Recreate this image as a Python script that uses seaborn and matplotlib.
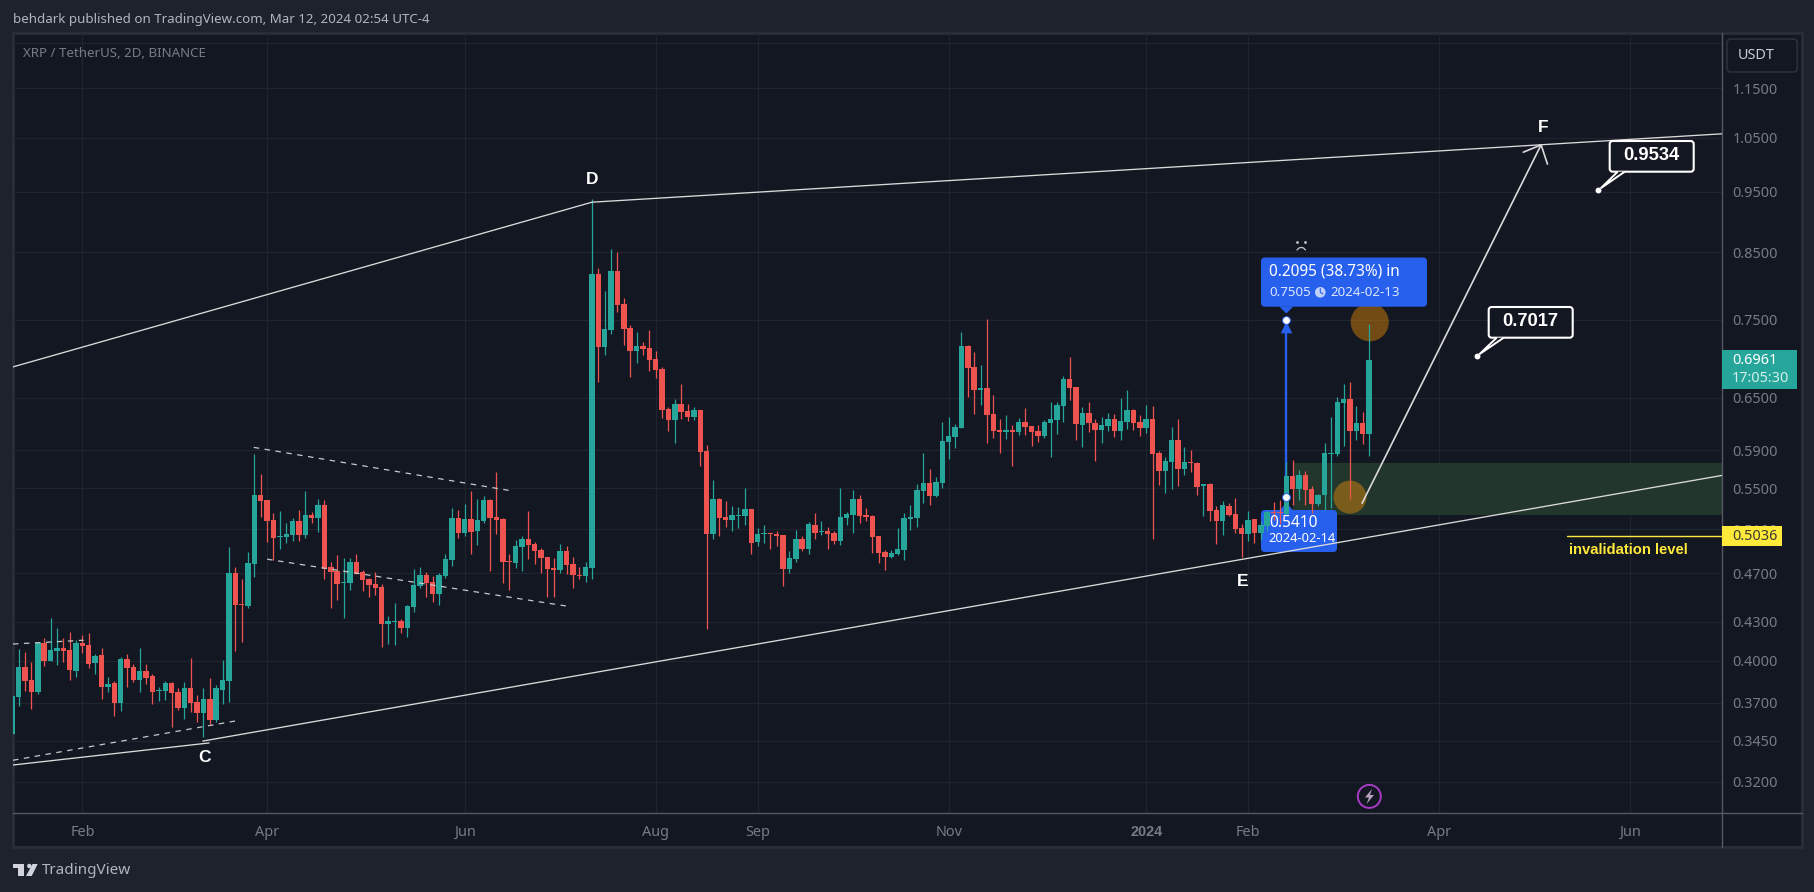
import numpy as np
import seaborn as sns
import matplotlib.pyplot as plt
from matplotlib.patches import FancyBboxPatch, Polygon, Circle, Rectangle

# XRP / USDT 2D candles
opens = [.3497,.3739,.3951,.3859,.3774,.4131,.3995,.4070,.4092,.4077,.3923,.4131,.4116,.3980,.4040,.3809,.3837,.3698,.4010,.3951,
         .3859,.3923,.3887,.3781,.3781,.3837,.3774,.3664,.3802,.3705,.3632,.3725,.3584,.3788,.3853,.4705,.4444,.4427,.4784,.5434,
         .5384,.5189,.5028,.5028,.5047,.5180,.5047,.5237,.5206,.5334,.4758,.4723,.4619,.4619,.4802,.4714,.4654,.4611,.4585,.4283,
         .4298,.4306,.4252,.4419,.4594,.4688,.4628,.4526,.4679,.4820,.5206,.5066,.5199,.5084,.5180,.5384,.5218,.5199,.4811,.4793,
         .4936,.5010,.4964,.4909,.4846,.4749,.4732,.4900,.4784,.4688,.4679,.4745,.8159,.7131,.7358,.8204,.7720,.7385,.7079,.7144,
         .7118,.6975,.6848,.6360,.6232,.6420,.6337,.6266,.6349,.5887,.5052,.5388,.5211,.5182,.5220,.5220,.5289,.4979,.5052,.5061,
         .5052,.5043,.4739,.4826,.5006,.4916,.5134,.5071,.5080,.5061,.4988,.5201,.5230,.5388,.5230,.5220,.5034,.4889,.4844,.4868,
         .4904,.5193,.5202,.5470,.5551,.5420,.5551,.5986,.6043,.6143,.7145,.6874,.6588,.6612,.6303,.6121,.6098,.6121,.6098,.6211,
         .6165,.6110,.6054,.6199,.6233,.6397,.6724,.6625,.6177,.6315,.6199,.6121,.6165,.6245,.6110,.6211,.6350,.6211,.6143,.6245,
         .5866,.5675,.5770,.6011,.5695,.5770,.5760,.5524,.5544,.5282,.5174,.5322,.5243,.5107,.5051,.5194,.5060,.5126,.5262,.5262,
         .5243,.5626,.5493,.5637,.5493,.5342,.5433,.5860,.5860,.6439,.6485,.6114,.6205,.6079]
highs = [.3746,.4090,.4062,.3988,.4136,.4170,.4331,.4246,.4170,.4220,.4152,.4192,.4208,.4047,.4092,.3880,.3852,.4025,.4047,.3978,
         .4092,.3978,.3906,.3809,.3852,.3845,.3802,.3845,.4017,.3753,.3802,.3873,.3823,.4002,.4934,.4758,.4654,.4891,.5860,.5649,
         .5384,.5253,.5276,.5160,.5206,.5285,.5472,.5266,.5394,.5384,.4802,.4864,.4838,.4838,.4873,.4732,.4662,.4714,.4611,.4347,
         .4451,.4322,.4435,.4740,.4758,.4714,.4679,.4705,.4873,.5305,.5285,.5344,.5472,.5394,.5424,.5394,.5669,.5206,.4873,.5000,
         .5037,.5276,.4982,.4927,.4846,.4838,.4964,.4945,.4846,.4758,.4802,.9382,.8250,.7907,.8545,.8505,.7806,.7427,.7331,.7197,
         .7358,.7079,.6873,.6384,.6479,.6660,.6420,.6384,.6349,.5951,.5579,.5398,.5368,.5318,.5308,.5498,.5289,.5106,.5134,.5071,
         .5080,.5043,.4898,.5089,.5034,.5163,.5249,.5173,.5115,.5080,.5498,.5259,.5478,.5427,.5298,.5230,.5034,.4907,.4907,.5109,
         .5251,.5330,.5541,.5866,.5695,.5613,.6211,.6268,.6188,.7333,.7159,.7067,.6900,.7510,.6528,.6245,.6291,.6177,.6257,.6373,
         .6165,.6177,.6233,.6444,.6444,.6761,.7002,.6625,.6386,.6444,.6245,.6268,.6315,.6303,.6492,.6588,.6362,.6291,.6409,.6397,
         .5887,.5823,.6154,.6245,.5932,.5902,.5770,.5544,.5550,.5322,.5372,.5352,.5402,.5146,.5275,.5194,.5174,.5282,.5362,.5382,
         .5774,.5795,.5689,.5671,.5524,.5443,.5980,.6274,.6510,.6667,.6692,.6402,.6331,.7448]
lows = [.3497,.3678,.3784,.3658,.3763,.3961,.3995,.3968,.3988,.3859,.3880,.4055,.3944,.3902,.3725,.3774,.3611,.3645,.3809,.3845,
        .3774,.3830,.3691,.3711,.3718,.3539,.3651,.3591,.3638,.3571,.3473,.3558,.3571,.3691,.3707,.4076,.4144,.4411,.4671,.5218,
        .4982,.4820,.4918,.4973,.4991,.4991,.5019,.5160,.5075,.4654,.4411,.4477,.4330,.4560,.4697,.4552,.4501,.4518,.4105,.4128,
        .4121,.4213,.4182,.4379,.4577,.4501,.4460,.4435,.4662,.4766,.5019,.5037,.4873,.4955,.5160,.4723,.5056,.4619,.4560,.4749,
        .4723,.4828,.4784,.4705,.4501,.4501,.4705,.4697,.4577,.4654,.4628,.4653,.6685,.7027,.7305,.7607,.7158,.6747,.6923,.7027,
        .6822,.6735,.6255,.6106,.5973,.6243,.6220,.6232,.5725,.4238,.5006,.5034,.5115,.5080,.5106,.5134,.4871,.4943,.4970,.4916,
        .4943,.4594,.4704,.4800,.4898,.4871,.5006,.5043,.4916,.4961,.4952,.5134,.5061,.5154,.5173,.4880,.4791,.4730,.4835,.4859,
        .4815,.5090,.5118,.5349,.5330,.5410,.5501,.5802,.5921,.6143,.6504,.6303,.6409,.5975,.6032,.5866,.6021,.5729,.6065,.6065,
        .5943,.5986,.6032,.5823,.6076,.6211,.6468,.6011,.5932,.6098,.5781,.5975,.6110,.6043,.6011,.6132,.6121,.6054,.6087,.5005,
        .5531,.5450,.5491,.5521,.5633,.5664,.5430,.5223,.5174,.4957,.5042,.5223,.5060,.4846,.4985,.4966,.4994,.5079,.5184,.5152,
        .5233,.5332,.5382,.5332,.5250,.5322,.5282,.5302,.5838,.5940,.5392,.6013,.5969,.5838]
closes = [.3746,.3951,.3852,.3774,.4131,.3995,.4077,.4092,.4070,.3930,.4131,.4108,.3973,.4032,.3809,.3830,.3698,.4010,.3944,.3859,
          .3923,.3873,.3774,.3788,.3837,.3767,.3664,.3802,.3698,.3632,.3725,.3584,.3802,.3859,.4700,.4435,.4435,.4793,.5434,.5374,
          .5180,.5019,.5037,.5056,.5180,.5047,.5237,.5206,.5334,.4740,.4714,.4611,.4628,.4802,.4697,.4645,.4602,.4577,.4283,.4306,
          .4306,.4252,.4427,.4602,.4688,.4619,.4526,.4688,.4828,.5206,.5066,.5199,.5075,.5189,.5384,.5206,.5189,.4802,.4802,.4945,
          .5010,.4955,.4900,.4838,.4740,.4732,.4900,.4775,.4688,.4679,.4758,.8159,.7131,.7371,.8204,.7706,.7371,.7079,.7144,.7105,
          .6962,.6835,.6349,.6232,.6420,.6325,.6266,.6349,.5876,.5052,.5388,.5201,.5182,.5230,.5230,.5289,.4970,.5052,.5061,.5052,
          .5034,.4739,.4835,.5006,.4916,.5144,.5061,.5080,.5052,.4988,.5211,.5240,.5388,.5220,.5211,.5025,.4880,.4844,.4880,.4913,
          .5202,.5212,.5480,.5551,.5420,.5561,.5997,.6054,.6154,.7145,.6861,.6588,.6612,.6291,.6110,.6098,.6121,.6098,.6211,.6154,
          .6098,.6054,.6211,.6245,.6409,.6724,.6612,.6188,.6315,.6199,.6121,.6177,.6245,.6110,.6222,.6350,.6199,.6143,.6245,.5855,
          .5675,.5781,.6011,.5695,.5770,.5760,.5511,.5544,.5275,.5174,.5332,.5233,.5098,.5051,.5184,.5060,.5136,.5262,.5252,.5252,
          .5626,.5493,.5637,.5483,.5342,.5433,.5871,.5871,.6450,.6485,.6114,.6205,.6079,.6961]

# price axis
tick_prices = [1.25, 1.15, 1.05, .95, .85, .75, .65, .59, .55, .51, .47, .43, .40, .37, .345, .32]
tick_texts = ['', '1.1500', '1.0500', '0.9500', '0.8500', '0.7500', '0.6500', '0.5900', '0.5500', '0.5100', '0.4700',
              '0.4300', '0.4000', '0.3700', '0.3450', '0.3200']
# time axis, bar number of the first bar of each labelled month
month_bars = [11, 40, 71, 101, 117, 147, 178, 194, 224, 254]
month_names = ['Feb', 'Apr', 'Jun', 'Aug', 'Sep', 'Nov', '2024', 'Feb', 'Apr', 'Jun']

# drawings on the chart (bar number, price)
upper_x = [0.1, 91, 268.4]
upper_y = [.6878, .9320, 1.0573]
lower1_x = [0.1, 30.9]
lower1_y = [.3300, .3437]
lower2_x = [29.9, 268.4]
lower2_y = [.3449, .5630]
dash_lines = [([0.1, 35], [.3329, .3579]), ([0.1, 11.2], [.4125, .4154]),
              ([37.9, 77.9], [.5929, .5477]), ([40, 86.9], [.4824, .4425])]
arrow_x = [211.9, 240]
arrow_y = [.5349, 1.036]
head_x = [237.2, 240, 241]
head_y = [1.022, 1.036, .9998]
zone_x = [201.1, 268.4]
zone_y = [.5237, .5760]
circle_x = [213.1, 210]
circle_y = [.7468, .5409]
measure_x = [200, 200]
measure_y = [.5410, .7505]
note_x = [230, 249]
note_y = [.7017, .9534]
inval_x = [244.0, 268.4]
inval_y = [.5036, .5036]

W, H = 1815, 892
PAGE = '#1E222D'
CHART = '#131722'
GRID = '#20242F'
EDGE = '#2A2E39'
AXISLINE = '#565963'
LABEL = '#787B86'
GREEN = '#26A69A'
RED = '#EF5350'
BLUE = '#2860EE'
YELLOW = '#FFE93B'
BOLD = ['Liberation Sans', 'DejaVu Sans']

sns.set_theme(style='dark')
plt.rcParams['font.family'] = ['Noto Sans', 'DejaVu Sans']

fig = plt.figure(figsize=(W / 100, H / 100), dpi=100, facecolor=PAGE)

def pixel_axes(z):
    a = fig.add_axes([0, 0, 1, 1], zorder=z)
    a.set_xlim(0, W)
    a.set_ylim(H, 0)
    a.axis('off')
    return a

under = pixel_axes(0)
top = pixel_axes(2)
under.add_patch(Rectangle((13, 33), 1789, 814, fc=CHART, ec=EDGE, lw=2))
under.plot([1722, 1722], [813, 847], color=AXISLINE, lw=1)
under.plot([1722, 1802], [813, 813], color=AXISLINE, lw=1)

ax = fig.add_axes([13 / W, 1 - 812.7 / H, (1722 - 13) / W, (812.7 - 33.3) / H], zorder=1, facecolor='none')
ax.set_yscale('log')
ax.set_xlim(0.105, 268.4)
ax.set_ylim(.3022, 1.2727)

ax.set_yticks(tick_prices)
ax.set_yticklabels(tick_texts)
ax.minorticks_off()
ax.yaxis.tick_right()
ax.set_xticks(month_bars)
ax.set_xticklabels(month_names)
ax.tick_params(axis='y', length=0, pad=7.5, labelsize=10.4, labelcolor=LABEL)
ax.tick_params(axis='x', length=0, pad=9, labelsize=10.4, labelcolor=LABEL)
year_label = ax.get_xticklabels()[6]
year_label.set_fontfamily(BOLD)
year_label.set_fontweight('bold')
ax.grid(True, color=GRID, lw=.9, zorder=0.5)
ax.set_axisbelow(True)
for side in ['top', 'left']:
    ax.spines[side].set_visible(False)
for side in ['right', 'bottom']:
    ax.spines[side].set_color(AXISLINE)
    ax.spines[side].set_linewidth(1)

# zone, circles and the measure tool sit under the candles
ax.fill_between(zone_x, zone_y[0], zone_y[1], color='#22362C', lw=0, zorder=1)
ax.scatter(circle_x, circle_y, s=[750, 565], color='#FF9800', alpha=.4, lw=0, zorder=1.5)

ax.plot(measure_x, measure_y, color=BLUE, lw=1.7, zorder=2)
ax.scatter(measure_x[1], .7400, marker='^', s=70, color=BLUE, lw=0, zorder=2)

def bubble(x0, y0, x1, y1, tip_x, tip_y, base_y):
    ax.add_patch(FancyBboxPatch((x0, y0), x1 - x0, y1 - y0, boxstyle='round,pad=0,rounding_size=4',
                                fc=BLUE, ec='none', transform=under.transData, clip_on=False, zorder=2.5))
    ax.add_patch(Polygon([(tip_x - 7, base_y), (tip_x, tip_y), (tip_x + 7, base_y)], fc=BLUE, ec='none',
                         transform=under.transData, clip_on=False, zorder=2.5))

bubble(1261, 257.5, 1427, 306.7, 1286.3, 313.5, 306.5)
bubble(1261, 510, 1337, 552, 1286.3, 503, 510.5)

# candles
bars = np.arange(len(opens))
opens = np.array(opens)
closes = np.array(closes)
colors = [GREEN if c >= o else RED for o, c in zip(opens, closes)]
ax.vlines(bars, lows, highs, colors=colors, lw=.9, zorder=3)
ax.bar(bars, np.abs(closes - opens), bottom=np.minimum(opens, closes), width=.85, color=colors, lw=0, zorder=3)

ax.scatter(measure_x, measure_y, s=32, color='white', edgecolor=BLUE, lw=.7, zorder=3.5)

# trend lines and projection
LINE = '#DADADA'
sns.lineplot(x=upper_x, y=upper_y, ax=ax, color=LINE, lw=.95, estimator=None, sort=False, zorder=4)
sns.lineplot(x=lower1_x, y=lower1_y, ax=ax, color=LINE, lw=.95, estimator=None, sort=False, zorder=4)
sns.lineplot(x=lower2_x, y=lower2_y, ax=ax, color=LINE, lw=.95, estimator=None, sort=False, zorder=4)
for dx, dy in dash_lines:
    ax.plot(dx, dy, color='#C8C8C8', lw=.9, ls=(0, (4.4, 4.4)), zorder=4)
sns.lineplot(x=arrow_x, y=arrow_y, ax=ax, color=LINE, lw=1.2, estimator=None, sort=False, zorder=4)
sns.lineplot(x=head_x, y=head_y, ax=ax, color=LINE, lw=1.2, estimator=None, sort=False, zorder=4)
sns.lineplot(x=inval_x, y=inval_y, ax=ax, color=YELLOW, lw=1, estimator=None, sort=False, zorder=4)
ax.scatter(note_x, note_y, s=18, color='white', lw=0, zorder=4)
ax.set_xlim(0.105, 268.4)
ax.set_ylim(.3022, 1.2727)

# callouts with the projected prices
def callout(x0, y0, tip_x, tip_y, text):
    x1, y1 = x0 + 84, y0 + 30.7
    top.add_patch(FancyBboxPatch((x0, y0), x1 - x0, y1 - y0, boxstyle='round,pad=0,rounding_size=3',
                                 fc=CHART, ec='white', lw=1.5))
    top.add_patch(Polygon([(x0 + 8, y1), (tip_x + 2, tip_y - 1), (x0 + 15, y1)], closed=False, fc=CHART, ec='white', lw=1.4))
    top.text((x0 + x1) / 2, y0 + 14, text, color='white', fontsize=13.2, fontweight='bold', family=BOLD, ha='center', va='center')

callout(1488.7, 307, 1477.3, 355.3, '0.7017')
callout(1609.7, 141, 1598.7, 189.3, '0.9534')

# wave letters
for tx, ty, letter in [(205, 758, 'C'), (592.6, 179, 'D'), (1243, 582, 'E'), (1543, 127, 'F')]:
    top.text(tx, ty, letter, color='white', fontsize=12.5, fontweight='bold', family=BOLD, ha='center', va='center')

# measure labels
top.text(1269.3, 272, '0.2095 (38.73%) in', color='white', fontsize=11.1, fontweight='medium', va='center')
top.text(1269.3, 292.3, '0.7505', color='#DCE6FF', fontsize=9.6, va='center')
top.add_patch(Circle((1320.3, 292.3), 5.3, fc='#BFD0FA', ec='none'))
top.plot([1320.3, 1320.3, 1323], [288.5, 292.3, 294], color=BLUE, lw=.8)
top.text(1330, 292.3, '2024-02-13', color='#DCE6FF', fontsize=9.6, va='center')
top.text(1269.3, 523, '0.5410', color='white', fontsize=11.2, va='center')
top.text(1268.3, 539, '2024-02-14', color='white', fontsize=9.3, va='center')

# sad face above the measure label
top.scatter([1297.5, 1305], [242, 242], s=4, color='#C8C8C8', lw=0)
top.plot([1297, 1299, 1301.3, 1303.5, 1305.5], [250, 248, 247.4, 248, 250], color='#C8C8C8', lw=.9)

# price axis tags
top.add_patch(FancyBboxPatch((1727, 39), 70.3, 33, boxstyle='round,pad=0,rounding_size=4', fc=CHART, ec=EDGE, lw=1.3))
top.text(1738, 55.7, 'USDT', color='#C8CBD2', fontsize=10.4, va='center')
top.add_patch(Rectangle((1722, 350), 74.7, 39.3, fc=GREEN, ec='none'))
top.text(1732, 361, '0.6961', color='white', fontsize=10.4, fontweight='medium', va='center')
top.text(1732, 379, '17:05:30', color='#D2EEEA', fontsize=10.4, va='center')
top.add_patch(Rectangle((1722, 525.7), 60.5, 20.6, fc=YELLOW, ec='none'))
top.text(1732.3, 536, '0.5036', color='#3A3A30', fontsize=10.4, va='center')
top.text(1569.3, 550, 'invalidation level', color=YELLOW, fontsize=10.7, fontweight='bold', family=BOLD, va='center')

# lightning icon
top.add_patch(Circle((1369.3, 796.4), 11.5, fc='none', ec='#A63BC4', lw=1.4))
top.add_patch(Polygon([(1372, 789), (1365, 797.5), (1369, 797.5), (1366.5, 804), (1374, 795), (1370, 795)],
                      fc='#B9A2C4', ec='none'))

# header and footer
top.text(13, 20, 'behdark published on TradingView.com, Mar 12, 2024 02:54 UTC-4', color='#B2B5BE', fontsize=9.6, va='center')
top.text(22.7, 53.3, 'XRP / TetherUS, 2D, BINANCE', color=LABEL, fontsize=9.6, va='center')
logo = '#D1D4DC'
top.add_patch(Polygon([(13, 864), (24.3, 864), (24.3, 876), (18.3, 876), (18.3, 867.5), (13, 867.5)], fc=logo, ec='none'))
top.add_patch(Circle((29.3, 866), 2.2, fc=logo, ec='none'))
top.add_patch(Polygon([(32.5, 864), (37.7, 864), (31.7, 876), (26, 876)], fc=logo, ec='none'))
top.text(42, 871, 'TradingView', color='#B2B5BE', fontsize=11, va='center')

fig.savefig('out.png', dpi=100, facecolor=PAGE)
